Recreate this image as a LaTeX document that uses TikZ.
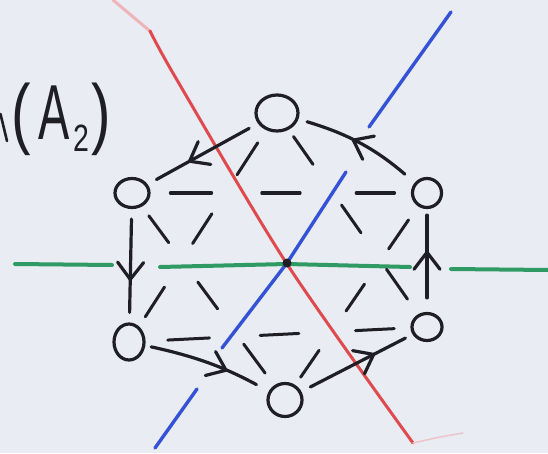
\documentclass[tikz,border=0pt]{standalone}
\usepackage{fontspec}
\setmainfont{Liberation Sans}
\usetikzlibrary{arrows.meta,decorations.markings,calc,shapes.geometric}
\definecolor{bg}{HTML}{E9ECF2}
\definecolor{ink}{HTML}{1E1E24}
\definecolor{redl}{HTML}{DE4A4E}
\definecolor{pinkl}{HTML}{EFB3BA}
\definecolor{bluel}{HTML}{3452D6}
\definecolor{greenl}{HTML}{2F9A64}
\begin{document}
\begin{tikzpicture}[x=1pt,y=1pt,
  vert/.style={draw=ink, line width=3.2pt, ellipse, inner sep=0pt, minimum width=32pt, minimum height=32pt},
  arr/.style={draw=ink, line width=3.2pt, line cap=round, postaction={decorate},
    decoration={markings, mark=at position #1 with {\draw[ink, line width=3.2pt, line cap=round, line join=round, shorten <=0pt, shorten >=0pt] (-17pt,13pt) -- (0pt,0pt) -- (-17pt,-13pt);}}},
  arr/.default=0.6,
  dsh/.style={draw=ink, line width=3pt, line cap=round},
  mirror/.style={line width=3.4pt, line cap=round},
  lbl/.style={text=ink, inner sep=0pt, xscale=0.75, font=\fontsize{78}{78}\selectfont}
]
\fill[bg] (0,0) rectangle (548,453);
\useasboundingbox (0,0) rectangle (548,453);
% label
\node[lbl, anchor=base west] (name) at (11,313) {(\kern11pt\scalebox{0.8}[1]{A}\kern5pt\raisebox{-12pt}{\fontsize{38}{38}\selectfont 2}\kern2pt)};
% fragment of a cut-off letter at the left edge
\draw[ink, line width=2.6pt, line cap=round] (0.5,339) -- (7,312);
% red mirror line
\draw[mirror, pinkl, line width=3pt] (113,453) -- (151,421);
\draw[mirror, redl, line width=3pt] plot[smooth] coordinates {(150,422) (177,373) (287,189) (413,10)};
\draw[pinkl!70!bg, line width=1.5pt, line cap=round] (413,10) -- (440,16) -- (463,20);
% blue mirror line
\draw[mirror, bluel] (451,441) -- (369,326);
\draw[mirror, bluel] (346,281) -- (287,190) -- (222,105);
\draw[mirror, bluel] (197,64) -- (155,5);
% green mirror line
\draw[mirror, greenl, line width=4pt] (15,189) -- (112,188);
\draw[mirror, greenl, line width=4pt] (160,186) -- (287,189) -- (410,186);
\draw[mirror, greenl, line width=4pt] (451,184) -- (548,183);
% vertices
\node[vert, minimum width=42pt, minimum height=36pt] (top) at (277,340) {};
\node[vert, minimum width=34pt, minimum height=29pt] (tl) at (132,260) {};
\node[vert, minimum width=29pt, minimum height=29pt] (tr) at (427,260) {};
\node[vert, minimum width=30pt, minimum height=36pt] (bl) at (129,111) {};
\node[vert, minimum width=34pt, minimum height=33pt] (b) at (285,53) {};
\node[vert, minimum width=30pt, minimum height=27pt] (br) at (427,126) {};
\node[circle, fill=ink, inner sep=0pt, minimum size=9pt] (o) at (287,190) {};
% dashed triangles
\foreach \a/\b in {top/bl, bl/br, br/top, tl/tr, tr/b, b/tl}{
  \foreach \s/\e in {0.13/0.27, 0.44/0.57, 0.76/0.89}{
    \draw[dsh] ($(\a)!\s!(\b)$) -- ($(\a)!\e!(\b)$);
  }
}
% arrows
\draw[arr=0.62, shorten <=10pt, shorten >=10pt] (top) -- (tl);
\draw[arr=0.56, shorten <=13pt, shorten >=9pt] (tr) to[bend right=12] (top);
\draw[arr=0.62, shorten <=10pt, shorten >=10pt] (tl) -- (bl);
\draw[arr=0.64, shorten <=6pt, shorten >=14pt] (bl) to[bend left=8] (b);
\draw[arr=0.65, shorten <=10pt, shorten >=8pt] (b) -- (br);
\draw[arr=0.58, shorten <=14pt, shorten >=6pt] (br) -- (tr);
\end{tikzpicture}
\end{document}
